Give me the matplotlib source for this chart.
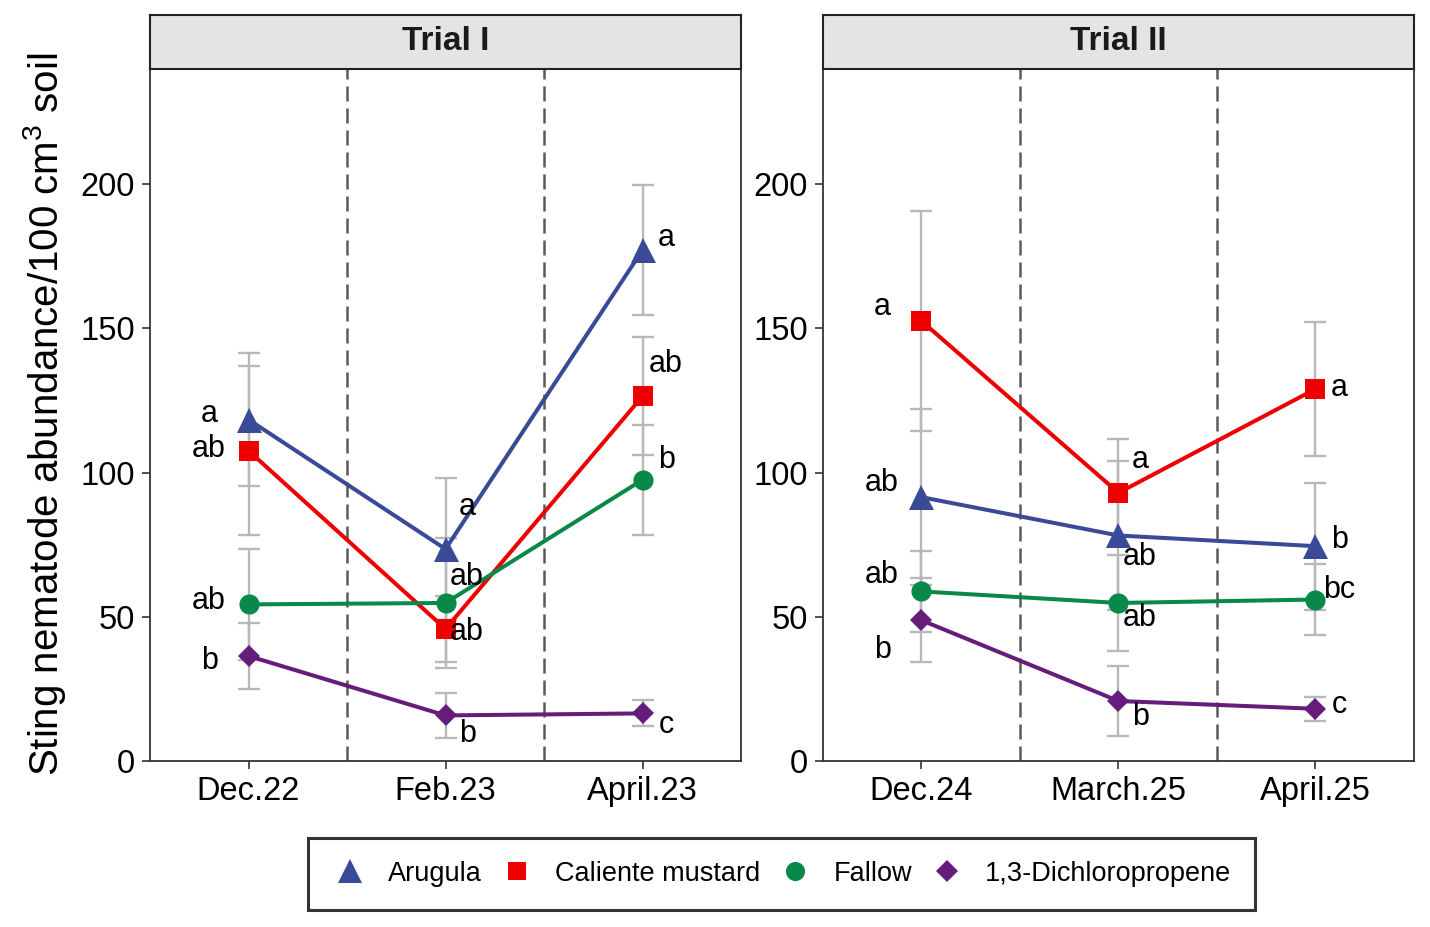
import matplotlib
matplotlib.use("Agg")
import matplotlib.pyplot as plt
from matplotlib.lines import Line2D

plt.rcParams['font.family'] = ['Liberation Sans', 'DejaVu Sans']
plt.rcParams['mathtext.default'] = 'regular'

# treatments
treatments = ["Arugula", "Caliente mustard", "Fallow", "1,3-Dichloropropene"]
colors = ["#3B4A96", "#EE0000", "#08894A", "#651C7A"]
markers = ["^", "s", "o", "D"]
msizes = [18, 14, 14.5, 11.5]

# Trial I
dates_1 = ["Dec.22", "Feb.23", "April.23"]
mean_1 = {
    "Arugula": [118.4, 73.5, 177.2],
    "Caliente mustard": [107.6, 45.8, 126.5],
    "Fallow": [54.3, 54.8, 97.5],
    "1,3-Dichloropropene": [36.4, 15.8, 16.5],
}
se_1 = {
    "Arugula": [23.0, 24.5, 22.5],
    "Caliente mustard": [29.3, 11.5, 20.5],
    "Fallow": [19.2, 22.5, 19.0],
    "1,3-Dichloropropene": [11.3, 7.8, 4.5],
}
letters_1 = {
    "Arugula": ["a", "a", "a"],
    "Caliente mustard": ["ab", "ab", "ab"],
    "Fallow": ["ab", "ab", "b"],
    "1,3-Dichloropropene": ["b", "b", "c"],
}
label_y_1 = {
    "Arugula": [120.5, 88.2, 181.3],
    "Caliente mustard": [108.3, 44.8, 137.8],
    "Fallow": [55.6, 63.9, 104.5],
    "1,3-Dichloropropene": [34.7, 9.4, 12.5],
}

# Trial II
dates_2 = ["Dec.24", "March.25", "April.25"]
mean_2 = {
    "Arugula": [91.5, 78.2, 74.5],
    "Caliente mustard": [152.6, 93.0, 129.0],
    "Fallow": [58.8, 54.8, 56.0],
    "1,3-Dichloropropene": [48.8, 20.8, 18.1],
}
se_2 = {
    "Arugula": [30.5, 26.0, 22.0],
    "Caliente mustard": [38.2, 18.5, 23.4],
    "Fallow": [14.0, 16.5, 12.3],
    "1,3-Dichloropropene": [14.5, 12.0, 4.2],
}
letters_2 = {
    "Arugula": ["ab", "ab", "b"],
    "Caliente mustard": ["a", "a", "a"],
    "Fallow": ["ab", "ab", "bc"],
    "1,3-Dichloropropene": ["b", "b", "c"],
}
label_y_2 = {
    "Arugula": [96.5, 70.8, 76.7],
    "Caliente mustard": [157.6, 104.5, 129.2],
    "Fallow": [64.6, 49.7, 59.4],
    "1,3-Dichloropropene": [38.5, 15.3, 19.4],
}

trials = [
    ("Trial I", dates_1, mean_1, se_1, letters_1, label_y_1),
    ("Trial II", dates_2, mean_2, se_2, letters_2, label_y_2),
]
label_dx = [-0.2, 0.11, 0.12]

fig = plt.figure(figsize=(14.3, 9.27), dpi=100)
lefts = [0.1049, 0.5755]
W, B, H = 0.4133, 0.1791, 0.7465

for (title, dates, mean, se, letters, label_y), left in zip(trials, lefts):
    ax = fig.add_axes([left, B, W, H])
    x = [1, 2, 3]
    for t in treatments:
        ax.errorbar(x, mean[t], yerr=se[t], fmt="none", ecolor="#B8B8B8",
                    elinewidth=1.7, capsize=8, capthick=1.7, zorder=2)
    for t, c, m, ms in zip(treatments, colors, markers, msizes):
        ax.plot(x, mean[t], color=c, lw=2.9, marker=m, markersize=ms,
                markeredgewidth=0, zorder=3)
        for i in range(3):
            ax.text(x[i] + label_dx[i], label_y[t][i], letters[t][i],
                    fontsize=22, ha="center", va="center", zorder=4)
    for xv in [1.5, 2.5]:
        ax.axvline(xv, color="#5A5A5A", lw=1.8, ls=(0, (6, 2.8)), zorder=1)
    ax.set_xlim(0.5, 3.5)
    ax.set_ylim(0, 240)
    ax.set_yticks([0, 50, 100, 150, 200])
    ax.set_xticks(x)
    ax.set_xticklabels(dates)
    ax.tick_params(labelsize=23.5, length=6, width=1.2, color="#333333", pad=5)
    for s in ax.spines.values():
        s.set_color("#333333")
        s.set_linewidth(1.3)
    # facet strip
    strip = fig.add_axes([left, B + H, W, 0.0583])
    strip.set_facecolor("#E4E4E4")
    strip.set_xticks([])
    strip.set_yticks([])
    for s in strip.spines.values():
        s.set_color("#222222")
        s.set_linewidth(1.5)
    strip.text(0.5, 0.5, title, ha="center", va="center", fontsize=24,
               fontweight="bold", color="#1A1A1A", transform=strip.transAxes)

fig.text(0.031, 0.553, r"Sting nematode abundance/100 cm$^{3}$ soil",
         rotation=90, ha="center", va="center", fontsize=29)

handles = [Line2D([], [], ls="none", marker=m, color=c, markersize=ms * 0.95,
                  markeredgewidth=0)
           for c, m, ms in zip(colors, markers, msizes)]
leg = fig.legend(handles, treatments, loc="center", ncol=4,
                 bbox_to_anchor=(0.5465, 0.0572), fontsize=19.5, frameon=True,
                 fancybox=False, borderpad=0.85, handletextpad=0.75,
                 columnspacing=0.6, handlelength=1.35)
leg.get_frame().set_edgecolor("black")
leg.get_frame().set_linewidth(2.2)

fig.savefig("out.png", dpi=100)
